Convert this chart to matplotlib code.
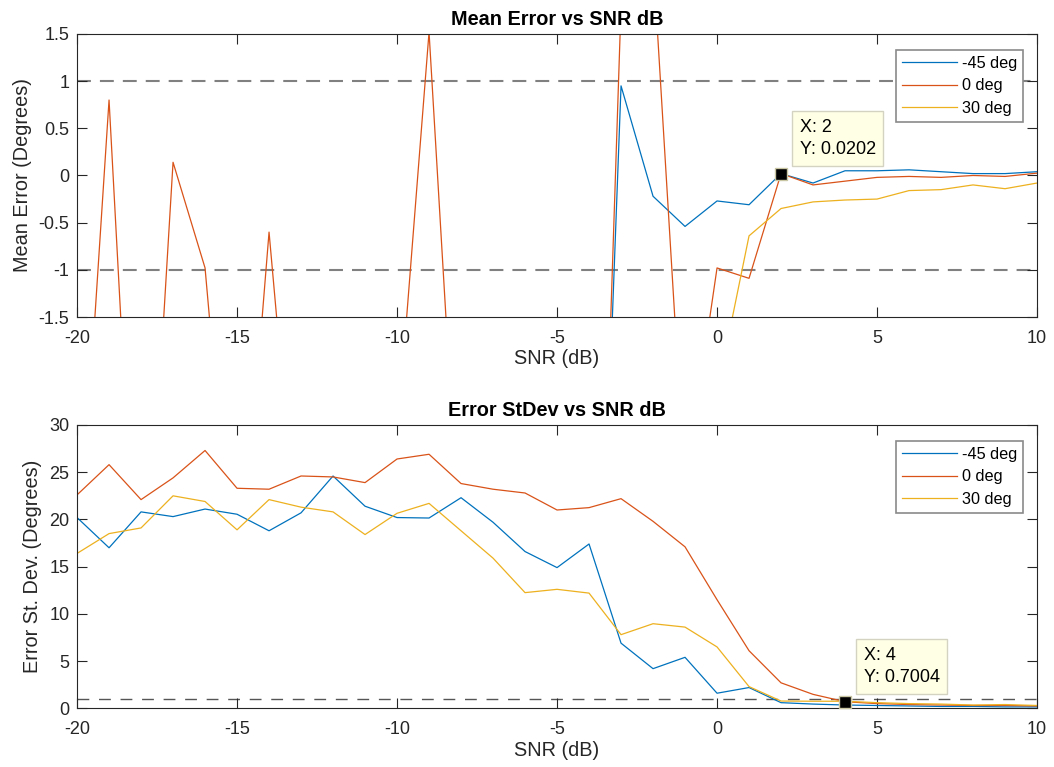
import matplotlib

matplotlib.use("Agg")
import matplotlib.pyplot as plt
from matplotlib.ticker import MultipleLocator, FuncFormatter

# SNR grid (dB)
snr_db = list(range(-20, 11))

# Mean error (degrees) per steering angle
mean_m45 = [-9.0, -10.5, -8.8, -11.0, -9.6, -10.2, -8.4, -11.4, -9.9, -10.8,
            -9.3, -11.2, -10.0, -8.9, -9.7, -10.4, -8.1, 0.95, -0.22, -0.54,
            -0.27, -0.31, 0.02, -0.08, 0.05, 0.05, 0.06, 0.04, 0.02, 0.02, 0.04]
mean_0 = [-4.4, 0.8, -5.5, 0.14, -0.98, -4.8, -0.6, -4.4, -6.0, -5.0,
          -2.8, 1.52, -4.2, -6.0, -5.0, -7.0, -8.5, 1.8, 2.3, -3.3,
          -0.98, -1.09, 0.0202, -0.10, -0.06, -0.02, -0.01, -0.02, 0.0, -0.01, 0.025]
mean_30 = [-8.2, -9.5, -7.7, -10.1, -8.8, -9.9, -7.9, -10.6, -9.2, -8.5,
           -10.0, -9.1, -8.4, -9.8, -7.6, -8.9, -9.4, -7.2, -6.5, -5.8,
           -2.3, -0.64, -0.35, -0.28, -0.26, -0.25, -0.16, -0.15, -0.10, -0.14, -0.08]

# Error standard deviation (degrees) per steering angle
std_m45 = [20.2, 17.0, 20.8, 20.3, 21.1, 20.55, 18.8, 20.7, 24.6, 21.4,
           20.2, 20.15, 22.3, 19.7, 16.6, 14.9, 17.4, 6.9, 4.2, 5.4,
           1.6, 2.2, 0.6, 0.45, 0.35, 0.3, 0.25, 0.2, 0.2, 0.15, 0.15]
std_0 = [22.6, 25.8, 22.1, 24.4, 27.3, 23.3, 23.2, 24.6, 24.5, 23.9,
         26.4, 26.9, 23.8, 23.2, 22.8, 21.0, 21.25, 22.2, 19.8, 17.1,
         11.5, 6.1, 2.7, 1.48, 0.7004, 0.5, 0.4, 0.35, 0.3, 0.3, 0.25]
std_30 = [16.4, 18.5, 19.1, 22.5, 21.9, 18.9, 22.1, 21.3, 20.8, 18.4,
          20.65, 21.7, 18.8, 15.9, 12.25, 12.6, 12.2, 7.8, 8.96, 8.6,
          6.5, 2.3, 0.77, 0.75, 0.75, 0.6, 0.5, 0.45, 0.35, 0.4, 0.3]

legend_labels = ["-45 deg", "0 deg", "30 deg"]
mean_limits = [-1.0, 1.0]
std_limit = 1.0

# indices of the data tips
tip_mean_idx = 22
tip_std_idx = 24

CORES = ["#0072BD", "#D95319", "#EDB120"]
COR_EIXO = "#262626"
FONTE_EIXO = 13
FONTE_ROTULO = 14.3

plt.rcParams["font.family"] = ["Liberation Sans", "DejaVu Sans"]
plt.rcParams["axes.unicode_minus"] = False
plt.rcParams["lines.scale_dashes"] = False


def _estilo_matlab(ax, passo_y):
    for lado in ax.spines.values():
        lado.set_color(COR_EIXO)
        lado.set_linewidth(0.8)
    ax.tick_params(direction="in", top=True, right=True, length=7, width=0.8,
                   colors=COR_EIXO, labelsize=FONTE_EIXO)
    ax.tick_params(axis="x", pad=9)
    ax.tick_params(axis="y", pad=5.5)
    ax.set_xlim(-20, 10)
    ax.xaxis.set_major_locator(MultipleLocator(5))
    ax.yaxis.set_major_locator(MultipleLocator(passo_y))
    ax.yaxis.set_major_formatter(FuncFormatter(lambda v, _: f"{v:g}"))
    ax.set_xlabel("SNR (dB)", fontsize=FONTE_ROTULO, color=COR_EIXO, labelpad=2)


def _legenda(ax):
    leg = ax.legend(loc="upper right", bbox_to_anchor=(0.9854, 0.9435), borderaxespad=0,
                    fontsize=11.7, handlelength=3.4, handletextpad=0.29, labelspacing=0.47,
                    borderpad=0.35, fancybox=False, framealpha=1)
    leg.get_frame().set_edgecolor("#8a8a8a")
    leg.get_frame().set_linewidth(1.2)


def _datatip(ax, x, y):
    ax.plot([x], [y], marker="s", markersize=9, markerfacecolor="black",
            markeredgecolor="#c9c6a4", markeredgewidth=1.0, zorder=6, clip_on=False)
    ax.annotate(f"X: {x:g}\nY: {y:.4g}", xy=(x, y), xytext=(13.4, 11.2),
                textcoords="offset points", ha="left", va="bottom", fontsize=13,
                linespacing=1.4, color="black", zorder=7,
                bbox=dict(boxstyle="square,pad=0.42", facecolor="#FFFFE6",
                          edgecolor="#d4d2c0", linewidth=1.0))


fig = plt.figure(figsize=(10.54, 7.67), dpi=100)

# Mean error
ax1 = fig.add_axes([0.0731, 0.5867, 0.9108, 0.3690])
for serie, cor, rotulo in zip([mean_m45, mean_0, mean_30], CORES, legend_labels):
    ax1.plot(snr_db, serie, color=cor, linewidth=0.9, label=rotulo)
for lim in mean_limits:
    ax1.axhline(lim, color="#808080", linewidth=1.5, dashes=(10, 6.5), zorder=1)
ax1.set_ylim(-1.5, 1.5)
_estilo_matlab(ax1, 0.5)
ax1.set_ylabel("Mean Error (Degrees)", fontsize=FONTE_ROTULO, color=COR_EIXO, labelpad=5)
ax1.set_title("Mean Error vs SNR dB", fontsize=FONTE_ROTULO, fontweight="bold", pad=6.5)
_legenda(ax1)
_datatip(ax1, snr_db[tip_mean_idx], mean_0[tip_mean_idx])

# Error standard deviation
ax2 = fig.add_axes([0.0731, 0.0765, 0.9108, 0.3694])
for serie, cor, rotulo in zip([std_m45, std_0, std_30], CORES, legend_labels):
    ax2.plot(snr_db, serie, color=cor, linewidth=0.9, label=rotulo)
ax2.axhline(std_limit, color="#555555", linewidth=1.0, dashes=(8.5, 7), zorder=1)
ax2.set_ylim(0, 30)
_estilo_matlab(ax2, 5)
ax2.set_ylabel("Error St. Dev. (Degrees)", fontsize=FONTE_ROTULO, color=COR_EIXO, labelpad=5)
ax2.set_title("Error StDev vs SNR dB", fontsize=FONTE_ROTULO, fontweight="bold", pad=6.5)
_legenda(ax2)
_datatip(ax2, snr_db[tip_std_idx], std_0[tip_std_idx])

fig.savefig("out.png", dpi=100)
plt.close(fig)
